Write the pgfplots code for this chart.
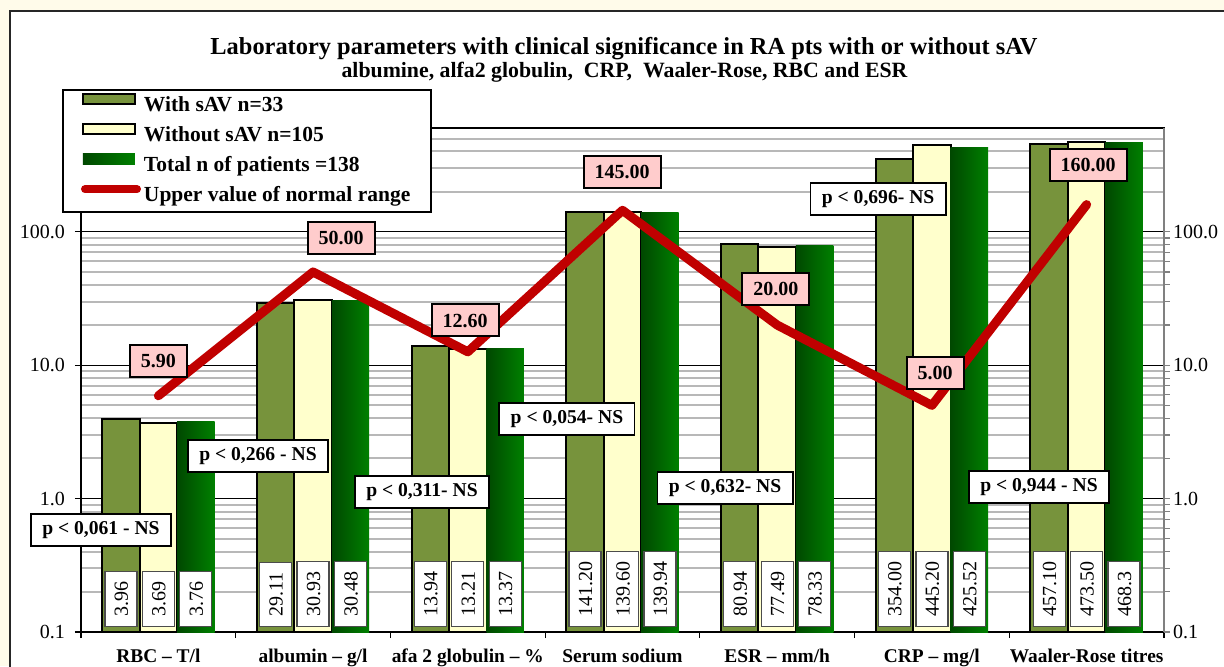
\documentclass[border=0pt]{standalone}
\usepackage{fontspec}
\setmainfont{Liberation Serif}
\usepackage{pgfplots}
\usepackage{pgfplotstable}
\pgfplotsset{compat=1.18}
\definecolor{olivebar}{RGB}{119,147,60}
\definecolor{yellowbar}{RGB}{255,255,204}
\definecolor{gdark}{RGB}{0,72,0}
\definecolor{glight}{RGB}{0,128,0}
\definecolor{redline}{RGB}{192,0,0}
\definecolor{pinkfill}{RGB}{255,204,204}
\definecolor{outerbg}{RGB}{255,251,234}

\pgfplotstableread{
x with without total upper
0 3.96 3.69 3.76 5.90
1 29.11 30.93 30.48 50.00
2 13.94 13.21 13.37 12.60
3 141.20 139.60 139.94 145.00
4 80.94 77.49 78.33 20.00
5 354.00 445.20 425.52 5.00
6 457.10 473.50 468.3 160.00
}\datatable

\tikzset{
  pbox/.style={draw=black, line width=0.8pt, fill=white, font=\bfseries\fontsize{9.8}{11}\selectfont, inner xsep=5.75pt, inner ysep=3.5pt, text height=7pt, text depth=2pt},
  pinklab/.style={draw=black, line width=1pt, fill=pinkfill, font=\bfseries\fontsize{10}{12}\selectfont, inner xsep=5.5pt, inner ysep=4.5pt, text height=7pt, text depth=0pt},
  vallab/.style={draw=black!70, line width=0.6pt, fill=white, font=\fontsize{10}{12}\selectfont, rotate=90, anchor=west, inner xsep=5pt, inner ysep=4.5pt, text height=7pt, text depth=0pt},
}
\pgfplotsset{
  totalbar/.style={ybar, bar width=0.242, bar shift=0.242, draw=none, left color=gdark, right color=glight},
}

\begin{document}
\begin{tikzpicture}
\path[use as bounding box] (0,0) rectangle (612pt,333pt);
\clip (0,0) rectangle (612pt,333pt);
\fill[outerbg] (0,0) rectangle (612pt,333pt);
\draw[fill=white, draw=black!85, line width=0.8pt] (5pt,327.5pt) rectangle (630pt,-10pt);
\node[font=\bfseries\fontsize{12.2}{14}\selectfont, anchor=base] at (312pt,306pt) {Laboratory parameters with clinical significance in RA pts with or without sAV};
\node[font=\bfseries\fontsize{10.9}{12}\selectfont, anchor=base] at (312.25pt,294.5pt) {albumine, alfa2 globulin,\ \ CRP,\ \ Waaler-Rose, RBC and ESR};

\begin{axis}[
  at={(40.5pt,17pt)}, anchor=south west, scale only axis,
  width=541.5pt, height=252pt, clip=false,
  ymode=log, ymin=0.1, ymax=600, log origin y=infty,
  xmin=-0.5, xmax=6.5,
  xtick={-0.5,0.5,1.5,2.5,3.5,4.5,5.5,6.5},
  x tick label as interval,
  xticklabels={RBC – T/l, albumin – g/l, afa 2 globulin – \%, Serum sodium, ESR – mm/h, CRP – mg/l, Waaler-Rose titres},
  ytick={0.1,1,10,100}, yticklabels={0.1,1.0,10.0,100.0},
  minor ytick={0.2,0.3,0.4,0.5,0.6,0.7,0.8,0.9,2,3,4,5,6,7,8,9,20,30,40,50,60,70,80,90,200,300,400,500},
  ymajorgrids, yminorgrids,
  major grid style={black, line width=0.6pt},
  minor grid style={black!28, line width=1pt},
  tick pos=left, tick align=outside,
  major tick length=3pt, minor tick length=0pt,
  tick style={black, line width=0.6pt},
  axis line style={black, line width=0.8pt},
  xticklabel style={font=\bfseries\fontsize{9.7}{11}\selectfont, yshift=-2pt},
  yticklabel style={font=\fontsize{10}{12}\selectfont, xshift=-1.5pt},
  legend style={at={(-0.01754,1.0774)}, anchor=north west, draw=black, line width=1pt, fill=white,
    inner xsep=9pt, inner ysep=1.5pt, row sep=2pt,
    font=\bfseries\fontsize{10.75}{12}\selectfont,
    nodes={inner sep=1.5pt, text height=7.5pt, text depth=2.5pt}},
  legend cell align=left,
]
\addplot[ybar, bar width=0.242, bar shift=-0.242, fill=olivebar, draw=black, line width=1pt,
  legend image code/.code={\draw[fill=olivebar, draw=black, line width=1pt] (0pt,0.8pt) rectangle (26pt,6pt);}]
  table[x=x, y=with] {\datatable};
\addlegendentry{With sAV n=33}
\addplot[ybar, bar width=0.242, bar shift=0, fill=yellowbar, draw=black, line width=1pt,
  legend image code/.code={\draw[fill=yellowbar, draw=black, line width=1pt] (0pt,0.8pt) rectangle (26pt,6pt);}]
  table[x=x, y=without] {\datatable};
\addlegendentry{Without sAV n=105}
\addplot[totalbar, legend image code/.code={\shade[left color=gdark, right color=glight] (0pt,0.6pt) rectangle (26pt,6.2pt);}] coordinates {(0,3.76)};
\addlegendentry{Total n of patients =138}
\addplot[totalbar, forget plot] coordinates {(1,30.48)};
\addplot[totalbar, forget plot] coordinates {(2,13.37)};
\addplot[totalbar, forget plot] coordinates {(3,139.94)};
\addplot[totalbar, forget plot] coordinates {(4,78.33)};
\addplot[totalbar, forget plot] coordinates {(5,425.52)};
\addplot[totalbar, forget plot] coordinates {(6,468.3)};
\addplot[redline, line width=4.5pt, line cap=round, line join=round, mark=none,
  legend image code/.code={\draw[redline, line width=4pt, line cap=round] (1pt,3.4pt) -- (27pt,3.4pt);}]
  table[x=x, y=upper] {\datatable};
\addlegendentry{Upper value of normal range}

% value labels
\node[vallab] at (axis cs:-0.242,0.109) {3.96};
\node[vallab] at (axis cs:0,0.109) {3.69};
\node[vallab] at (axis cs:0.242,0.109) {3.76};
\node[vallab] at (axis cs:0.758,0.109) {29.11};
\node[vallab] at (axis cs:1,0.109) {30.93};
\node[vallab] at (axis cs:1.242,0.109) {30.48};
\node[vallab] at (axis cs:1.758,0.109) {13.94};
\node[vallab] at (axis cs:2,0.109) {13.21};
\node[vallab] at (axis cs:2.242,0.109) {13.37};
\node[vallab] at (axis cs:2.758,0.109) {141.20};
\node[vallab] at (axis cs:3,0.109) {139.60};
\node[vallab] at (axis cs:3.242,0.109) {139.94};
\node[vallab] at (axis cs:3.758,0.109) {80.94};
\node[vallab] at (axis cs:4,0.109) {77.49};
\node[vallab] at (axis cs:4.242,0.109) {78.33};
\node[vallab] at (axis cs:4.758,0.109) {354.00};
\node[vallab] at (axis cs:5,0.109) {445.20};
\node[vallab] at (axis cs:5.242,0.109) {425.52};
\node[vallab] at (axis cs:5.758,0.109) {457.10};
\node[vallab] at (axis cs:6,0.109) {473.50};
\node[vallab] at (axis cs:6.242,0.109) {468.3};

% normal-range labels
\node[pinklab] at (axis cs:0,10.78) {5.90};
\node[pinklab] at (axis cs:1.181,90.2) {50.00};
\node[pinklab] at (axis cs:1.982,21.7) {12.60};
\node[pinklab] at (axis cs:2.997,281.8) {145.00};
\node[pinklab] at (axis cs:3.992,37.4) {20.00};
\node[pinklab] at (axis cs:5.02,8.76) {5.00};
\node[pinklab] at (axis cs:6.009,318) {160.00};

% p-value labels
\node[pbox] at (axis cs:-0.371,0.582) {p < 0,061 - NS};
\node[pbox] at (axis cs:0.644,2.09) {p < 0,266 - NS};
\node[pbox] at (axis cs:1.704,1.122) {p < 0,311- NS};
\node[pbox] at (axis cs:2.641,3.96) {p < 0,054- NS};
\node[pbox] at (axis cs:3.663,1.202) {p < 0,632- NS};
\node[pbox] at (axis cs:4.652,176.8) {p < 0,696- NS};
\node[pbox] at (axis cs:5.692,1.223) {p < 0,944 - NS};
\end{axis}

\begin{axis}[
  at={(40.5pt,17pt)}, anchor=south west, scale only axis,
  width=541.5pt, height=252pt,
  ymode=log, ymin=0.1, ymax=600, xmin=-0.5, xmax=6.5,
  axis x line=none, axis y line*=right,
  ytick={0.1,1,10,100}, yticklabels={0.1,1.0,10.0,100.0}, minor ytick={},
  tick align=outside, major tick length=3pt,
  y axis line style={draw=black!50, line width=1pt, -},
  ytick style={black!50, line width=0.6pt},
  yticklabel style={font=\fontsize{10}{12}\selectfont, xshift=-2pt},
]
\addplot[draw=none, forget plot] coordinates {(0,1)};
\end{axis}
\end{tikzpicture}
\end{document}
